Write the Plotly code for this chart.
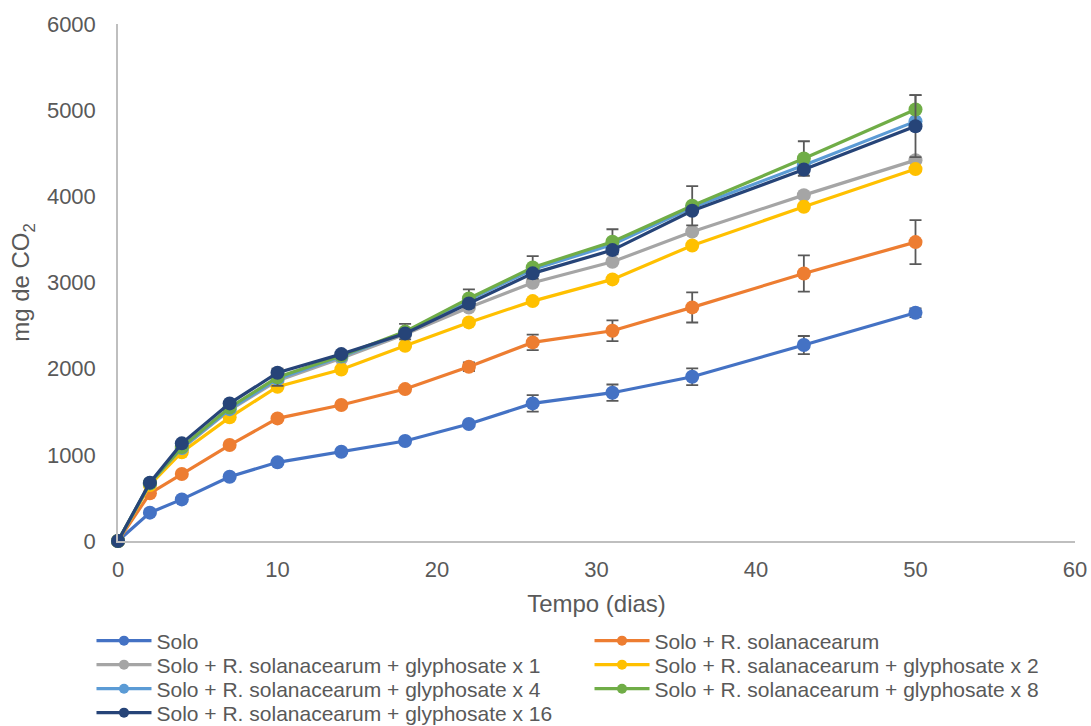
import plotly.graph_objects as go

dias = [0, 2, 4, 7, 10, 14, 18, 22, 26, 31, 36, 43, 50]

solo = [0, 329, 483, 746, 913, 1036, 1160, 1357, 1597, 1721, 1906, 2274, 2649]
solo_rs = [0, 553, 777, 1114, 1423, 1578, 1763, 2023, 2305, 2440, 2711, 3105, 3469]
gly1 = [0, 660, 1070, 1520, 1860, 2120, 2400, 2710, 2997, 3240, 3590, 4014, 4420]
gly2 = [0, 650, 1030, 1435, 1791, 1991, 2266, 2537, 2784, 3036, 3430, 3879, 4316]
gly4 = [0, 670, 1080, 1530, 1880, 2140, 2420, 2800, 3150, 3440, 3870, 4360, 4870]
gly8 = [0, 670, 1090, 1550, 1900, 2150, 2430, 2815, 3175, 3473, 3890, 4439, 5008]
gly16 = [0, 677, 1133, 1597, 1953, 2169, 2409, 2757, 3106, 3376, 3832, 4312, 4814]

err_solo = [0, 0, 0, 0, 0, 0, 0, 0, 95, 95, 97, 105, 50]
err_solo_rs = [0, 0, 0, 0, 0, 0, 0, 50, 90, 120, 175, 210, 255]
err_gly8 = [0, 0, 0, 0, 100, 0, 90, 105, 130, 145, 228, 200, 166]
err_gly16 = [0, 0, 0, 0, 0, 0, 0, 0, 0, 0, 0, 0, 360]

names = [
    "Solo",
    "Solo + R. solanacearum",
    "Solo + R. solanacearum + glyphosate x 1",
    "Solo + R. salanacearum + glyphosate x 2",
    "Solo + R. solanacearum + glyphosate x 4",
    "Solo + R. solanacearum + glyphosate x 8",
    "Solo + R. solanacearum + glyphosate x 16",
]
colors = ["#4472C4", "#ED7D31", "#A5A5A5", "#FFC000", "#5B9BD5", "#70AD47", "#264478"]
series = [solo, solo_rs, gly1, gly2, gly4, gly8, gly16]
errors = [err_solo, err_solo_rs, None, None, None, err_gly8, err_gly16]

fig = go.Figure()
for n, c, s, e in zip(names, colors, series, errors):
    kw = {}
    if e is not None:
        kw["error_y"] = dict(type="data", array=e, visible=True, color="#595959",
                             thickness=1.8, width=6)
    fig.add_trace(go.Scatter(x=dias, y=s, mode="lines+markers", name=n,
                             line=dict(color=c, width=3.2),
                             marker=dict(color=c, size=14),
                             cliponaxis=False,
                             showlegend=False, **kw))

# legend-only entries (two columns, one legend per entry)
col_x = [-0.0277, 0.4927]
row_y = [-0.1934, -0.2398, -0.2863, -0.3327]
font = "Liberation Sans, Arial, sans-serif"
legend_layout = {}
for i, (n, c) in enumerate(zip(names, colors)):
    lname = "legend" if i == 0 else f"legend{i + 1}"
    fig.add_trace(go.Scatter(x=[None], y=[None], mode="lines+markers", name=n,
                             line=dict(color=c, width=3.2),
                             marker=dict(color=c, size=10), legend=lname))
    legend_layout[lname] = dict(x=col_x[i % 2], xanchor="left",
                                y=row_y[i // 2], yanchor="middle",
                                itemwidth=55, bgcolor="rgba(0,0,0,0)",
                                font=dict(family=font, size=21, color="#595959"))

fig.update_layout(
    width=1091, height=726,
    margin=dict(l=118, r=16, t=24, b=185, autoexpand=False),
    paper_bgcolor="white", plot_bgcolor="white",
    font=dict(family=font, size=21, color="#595959"),
    xaxis=dict(range=[0, 60], tickvals=[0, 10, 20, 30, 40, 50, 60],
               showgrid=False, zeroline=False, showline=True,
               linecolor="#BFBFBF", linewidth=1.5, ticks="",
               ticklabelstandoff=8,
               tickfont=dict(size=22, color="#595959"),
               title=dict(text="Tempo (dias)", font=dict(size=24, color="#595959"), standoff=14)),
    yaxis=dict(range=[0, 6000], tickvals=[0, 1000, 2000, 3000, 4000, 5000, 6000],
               showgrid=False, zeroline=False, showline=True,
               linecolor="#BFBFBF", linewidth=1.5, ticks="",
               ticklabelstandoff=16,
               tickfont=dict(size=22, color="#595959"),
               title=dict(text="mg de CO<sub>2</sub>", font=dict(size=24, color="#595959"), standoff=10)),
    **legend_layout,
)
fig.write_html("out.html")
